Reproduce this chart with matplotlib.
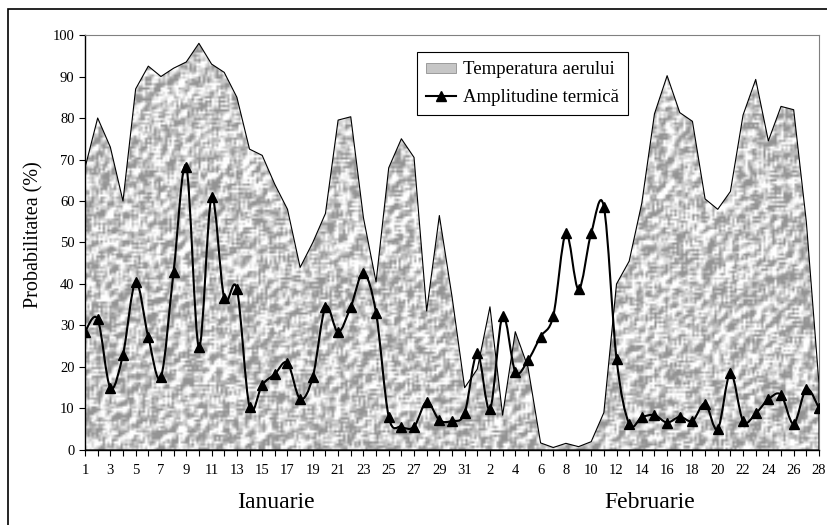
import numpy as np
import matplotlib
matplotlib.use('Agg')
import matplotlib.pyplot as plt
from matplotlib.path import Path
from matplotlib.patches import PathPatch, Patch, Rectangle
from matplotlib.lines import Line2D

plt.rcParams['font.family'] = ['Liberation Serif', 'DejaVu Serif']

# days of the two months on the category axis
zile_ianuarie = list(range(1, 32))
zile_februarie = list(range(1, 29))

# probability (%) of the air temperature and of the thermal amplitude
temperatura = [68, 80, 73, 60, 87, 92.5, 90, 92, 93.5, 98, 93, 91, 85, 72.5, 71,
               64, 58, 44, 50, 57, 79.5, 80.3, 56, 40.5, 68, 75, 70.5, 33.5, 56.5, 37, 15,
               19.5, 34.5, 8.4, 28.5, 20, 1.7, 0.6, 1.6, 0.8, 2, 9, 40, 45.5, 59.5,
               81, 90.2, 81.3, 79.2, 60.5, 58, 62.3, 80.7, 89.3, 74.5, 82.8, 82, 55, 16]
amplitudine = [28.5, 31.5, 15, 23, 40.5, 27.2, 17.6, 43, 68.3, 24.8, 60.9, 36.6, 38.8, 10.4, 15.7,
               18.3, 21, 12.3, 17.6, 34.4, 28.4, 34.5, 42.6, 33, 8, 5.6, 5.6, 11.6, 7.2, 7, 8.9,
               23.4, 9.8, 32.3, 18.9, 21.6, 27.3, 32.3, 52.2, 38.7, 52.3, 58.6, 22, 6.3, 7.9,
               8.4, 6.6, 8, 7, 11.2, 5, 18.6, 7, 8.8, 12.2, 13.3, 6.3, 14.7, 10.1]

etichete = [str(d) for d in zile_ianuarie + zile_februarie]
x = np.arange(len(temperatura))


def speckle(h, w):
    # deterministic grainy texture (integer hash) used as the area fill
    yy, xx = np.mgrid[0:h, 0:w].astype(np.uint64)
    k = xx * np.uint64(374761393) + yy * np.uint64(668265263)
    k = (k ^ (k >> np.uint64(13))) * np.uint64(1274126177)
    k = k ^ (k >> np.uint64(16))
    v = (k & np.uint64(0xFFFF)).astype(float) / 65535.0
    p = np.pad(v, 1, mode='wrap')
    s = sum(p[dy:dy + h, dx:dx + w] for dy in range(3) for dx in range(3)) / 9
    shade = s - np.roll(np.roll(s, 1, axis=0), 1, axis=1)
    g = 0.79 + 1.1 * (s - 0.5) + 0.9 * shade
    return np.clip(g, 0.58, 1.0)


def smooth_path(xs, ys):
    pts = np.column_stack([xs, ys]).astype(float)
    n = len(pts)
    verts = [pts[0]]
    codes = [Path.MOVETO]
    for i in range(n - 1):
        p0 = pts[max(i - 1, 0)]
        p1 = pts[i]
        p2 = pts[i + 1]
        p3 = pts[min(i + 2, n - 1)]
        verts += [p1 + (p2 - p0) / 6, p2 - (p3 - p1) / 6, p2]
        codes += [Path.CURVE4] * 3
    return Path(verts, codes)


fig = plt.figure(figsize=(8.27, 5.25), dpi=100)
ax = fig.add_axes([0.1028, 0.1429, 0.8875, 0.7904])

area = ax.fill_between(x, 0, temperatura, facecolor='none', edgecolor='black',
                       linewidth=0.8, zorder=2)
im = ax.imshow(speckle(190, 330), extent=(0, len(x) - 1, 0, 100), cmap='gray',
               vmin=0, vmax=1, aspect='auto', interpolation='bilinear', zorder=1)
im.set_clip_path(area.get_paths()[0], transform=ax.transData)

ax.add_patch(PathPatch(smooth_path(x, amplitudine), facecolor='none',
                       edgecolor='black', linewidth=1.5, zorder=3))
ax.plot(x, amplitudine, linestyle='none', marker='^', markersize=7.5,
        color='black', zorder=4)

ax.set_xlim(0, len(x) - 1)
ax.set_ylim(0, 100)
ax.set_xticks(x)
ax.set_xticklabels([lab if i % 2 == 0 else '' for i, lab in enumerate(etichete)],
                   fontsize=10.5)
ax.set_yticks(np.arange(0, 101, 10))
ax.tick_params(axis='y', labelsize=10.5, direction='out', length=4, width=0.8)
ax.tick_params(axis='x', direction='out', length=4, width=0.8, pad=6)
ax.set_ylabel('Probabilitatea (%)', fontsize=14.5)
ax.yaxis.set_label_coords(-0.056, 0.52)

for side in ('top', 'right'):
    ax.spines[side].set_color('#808080')
    ax.spines[side].set_linewidth(0.8)
for side in ('left', 'bottom'):
    ax.spines[side].set_linewidth(1.0)

fig.text(276 / 827, 1 - 502 / 525, 'Ianuarie', fontsize=17, ha='center', va='center')
fig.text(650 / 827, 1 - 502 / 525, 'Februarie', fontsize=17, ha='center', va='center')

handles = [Patch(facecolor='#c6c6c6', edgecolor='#909090', linewidth=0.6),
           Line2D([], [], color='black', linewidth=1.5, marker='^', markersize=7.5)]
leg = ax.legend(handles, ['Temperatura aerului', 'Amplitudine termică'],
                loc='upper left', bbox_to_anchor=(0.452, 0.959), borderaxespad=0,
                frameon=True, fancybox=False, edgecolor='black', framealpha=1,
                fontsize=13.5, handlelength=1.6, handleheight=0.45, handletextpad=0.35,
                borderpad=0.5, labelspacing=0.55)
leg.get_frame().set_linewidth(0.8)

# chart border
fig.add_artist(Rectangle((8 / 827, -0.05), 1.0, 1 - 9 / 525 + 0.05,
                         transform=fig.transFigure, fill=False,
                         edgecolor='black', linewidth=1.2))

fig.savefig('out.png', dpi=100)
